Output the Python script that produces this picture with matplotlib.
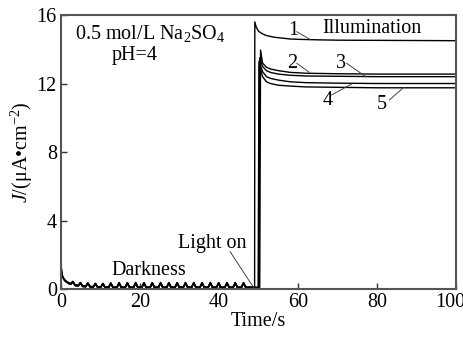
import matplotlib
matplotlib.use("Agg")
import matplotlib.pyplot as plt
import matplotlib.transforms as mtransforms
import numpy as np

plt.rcParams['font.family'] = ['Liberation Serif', 'DejaVu Serif']
plt.rcParams['mathtext.fontset'] = 'custom'
plt.rcParams['mathtext.rm'] = 'Liberation Serif'
plt.rcParams['mathtext.it'] = 'Liberation Serif:italic'

FS = 14.5

# ---- data ----
# dark phase: initial decay (shared shape), per-curve starting value and offset
decay_t = [0.0, 0.3, 0.7, 1.2, 2.0, 3.0, 4.0, 6.0, 8.0, 10.0, 12.0]
decay_j = [1.0, 0.75, 0.55, 0.42, 0.3, 0.22, 0.17, 0.12, 0.09, 0.07, 0.06]
start_j = [1.40, 1.25, 1.10, 0.95, 0.80]
dark_offset = [0.06, 0.04, 0.03, 0.015, 0.0]
# small periodic bumps in darkness (peak times, heights)
bump_t = [3.0, 4.9, 6.8, 8.7, 10.6, 12.6, 14.7, 16.8, 18.9, 21.0, 23.1, 25.2,
          27.3, 29.4, 31.5, 33.6, 35.7, 37.8, 39.9, 42.0, 44.1, 46.2]
bump_h = [0.18, 0.18, 0.2, 0.2, 0.22, 0.25, 0.27, 0.27, 0.27, 0.27, 0.27, 0.27,
          0.27, 0.27, 0.27, 0.27, 0.27, 0.27, 0.27, 0.27, 0.27, 0.27]

# illumination phase, each curve
light_on = [49.0, 50.3, 50.1, 49.9, 50.0]
light_t = [
    [49.05, 49.4, 50.0, 51.0, 52.0, 54.0, 56.0, 58.0, 60.0, 65.0, 70.0, 80.0, 100.0],
    [50.5, 51.0, 52.0, 53.0, 55.0, 58.0, 62.0, 70.0, 80.0, 100.0],
    [50.3, 51.0, 52.0, 53.0, 55.0, 58.0, 62.0, 70.0, 80.0, 100.0],
    [50.1, 51.0, 52.0, 53.0, 55.0, 58.0, 62.0, 70.0, 80.0, 100.0],
    [50.2, 51.0, 52.0, 53.0, 55.0, 58.0, 62.0, 70.0, 80.0, 100.0],
]
light_j = [
    [15.6, 15.3, 15.05, 14.9, 14.8, 14.7, 14.65, 14.6, 14.58, 14.55, 14.53, 14.52, 14.5],
    [13.95, 13.2, 12.95, 12.85, 12.75, 12.65, 12.6, 12.57, 12.55, 12.55],
    [13.5, 13.0, 12.75, 12.65, 12.55, 12.48, 12.44, 12.42, 12.4, 12.4],
    [13.3, 12.7, 12.4, 12.3, 12.2, 12.1, 12.05, 12.02, 12.0, 12.0],
    [13.1, 12.4, 12.1, 12.0, 11.9, 11.85, 11.8, 11.78, 11.75, 11.75],
]
curve_labels = ['1', '2', '3', '4', '5']
label_pos = [(58.9, 15.1), (58.6, 13.15), (70.9, 13.15), (67.6, 11.0), (81.3, 10.75)]
leader_from = [(59.7, 15.02), (59.7, 13.18), (72.3, 13.18), (68.5, 11.33), (83.1, 11.04)]
leader_to = [(63.0, 14.58), (62.8, 12.66), (77.0, 12.42), (73.6, 11.98), (86.7, 11.76)]
x_ticks = [0, 20, 40, 60, 80, 100]
y_ticks = [0, 4, 8, 12, 16]

fig = plt.figure(figsize=(4.64, 3.45), dpi=100)
ax = fig.add_axes([0.1315, 0.1623, 0.8515, 0.7942])

bump_w = 0.55
for i in range(5):
    t_base = np.linspace(0, light_on[i], 600)
    base = np.interp(t_base, decay_t, decay_j, right=decay_j[-1])
    base[t_base < 0.3] = np.interp(t_base[t_base < 0.3], [0, 0.3], [start_j[i], decay_j[1]])
    bumps = np.zeros_like(t_base)
    for bt, bh in zip(bump_t, bump_h):
        bumps = np.maximum(bumps, bh * np.clip(1 - np.abs(t_base - bt) / bump_w, 0, None))
    dark = base + bumps + dark_offset[i]
    t = np.concatenate([t_base, light_t[i]])
    j = np.concatenate([dark, light_j[i]])
    ax.plot(t, j, color='black', lw=1.0)

for lab, p, f, to in zip(curve_labels, label_pos, leader_from, leader_to):
    ax.text(p[0], p[1], lab, ha='center', va='center', fontsize=FS)
    ax.plot([f[0], to[0]], [f[1], to[1]], color='#444444', lw=0.7)

ax.text(78.6, 14.95, 'Illumination', ha='center', va='baseline', fontsize=FS)
ax.text(22.5, 14.58, '0.5 mol/L Na$_2$SO$_4$', ha='center', va='baseline', fontsize=FS)
ax.text(18.7, 13.37, 'pH=4', ha='center', va='baseline', fontsize=FS)
ax.text(38.4, 2.38, 'Light on', ha='center', va='baseline', fontsize=FS)
ax.text(22.3, 0.82, 'Darkness', ha='center', va='baseline', fontsize=FS)
ax.plot([42.8, 48.7], [2.18, 0.1], color='#444444', lw=0.7)

ax.set_xlim(0, 100)
ax.set_ylim(0, 16)
ax.set_xticks(x_ticks)
ax.set_yticks(y_ticks)
ax.tick_params(direction='in', length=4, width=1, labelsize=FS, colors='#333333', pad=3)
ax.tick_params(labelcolor='black')
for s in ax.spines.values():
    s.set_color('#555555')
    s.set_linewidth(1.5)
ax.set_xlabel('Time/s', fontsize=FS, labelpad=0)
ax.set_ylabel(r'$J$/(μA•cm$^{-2}$)', fontsize=FS, labelpad=1)

# nudge last x tick label left, as in the reference
last = ax.get_xticklabels()[-1]
last.set_transform(last.get_transform() + mtransforms.ScaledTranslation(-6 / 100, 0, fig.dpi_scale_trans))

fig.savefig('out.png', dpi=100)
